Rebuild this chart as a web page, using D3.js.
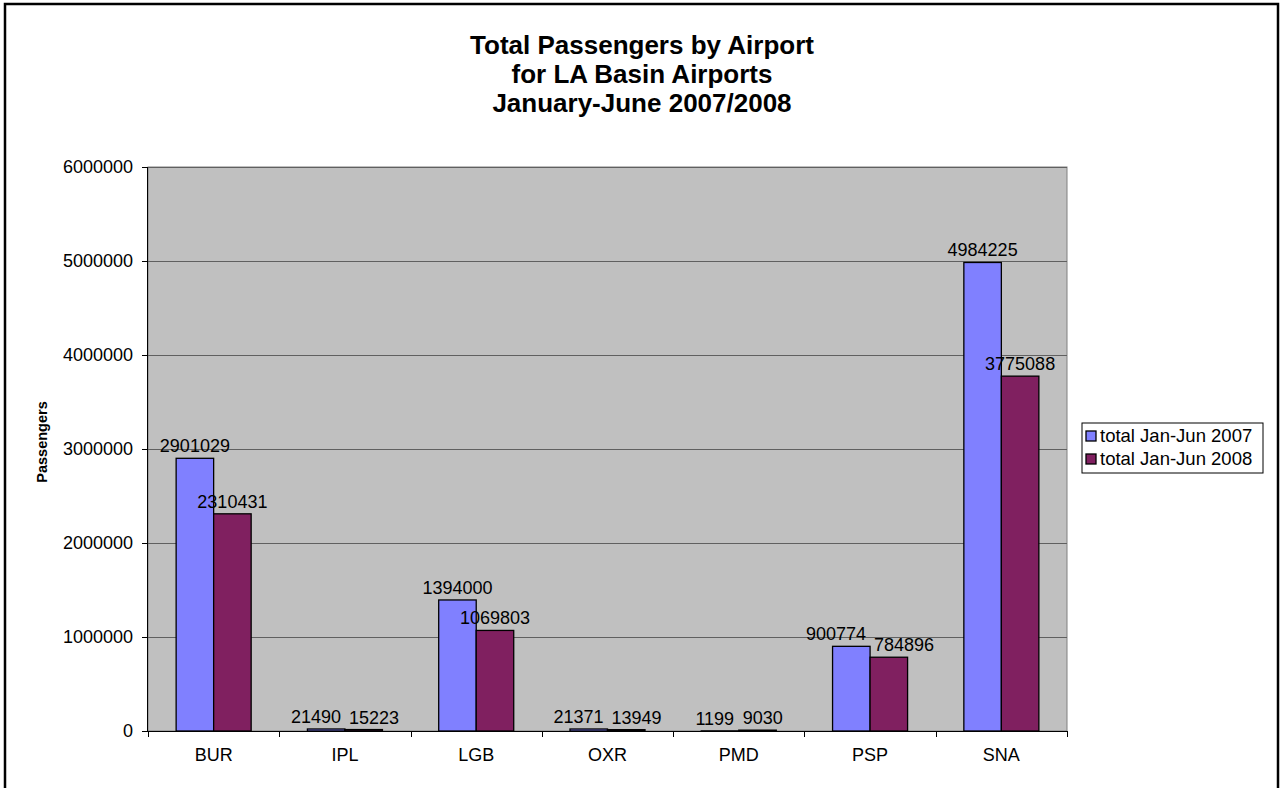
<!DOCTYPE html>
<html>
<head>
<meta charset="utf-8">
<script src="https://cdn.jsdelivr.net/npm/d3@7"></script>
<style>
  body { margin: 0; background: #fff; }
  svg { display: block; font-family: Arial, "Liberation Sans", sans-serif; }
</style>
</head>
<body>
<svg id="chart"></svg>
<script>
const airports = ["BUR", "IPL", "LGB", "OXR", "PMD", "PSP", "SNA"];
const seriesNames = ["total Jan-Jun 2007", "total Jan-Jun 2008"];
const values2007 = [2901029, 21490, 1394000, 21371, 1199, 900774, 4984225];
const values2008 = [2310431, 15223, 1069803, 13949, 9030, 784896, 3775088];
const yTicks = [0, 1000000, 2000000, 3000000, 4000000, 5000000, 6000000];
const colors = ["#8080ff", "#802060"];

const width = 1282, height = 788;
const plot = { left: 148, right: 1067, top: 167, bottom: 731 };
const fontFam = "Arial, 'Liberation Sans', sans-serif";

const svg = d3.select("#chart").attr("width", width).attr("height", height);

// outer border
svg.append("rect")
    .attr("x", 5).attr("y", 4)
    .attr("width", 1273).attr("height", 800)
    .attr("fill", "none").attr("stroke", "#000").attr("stroke-width", 2.5);

// title
const titleLines = ["Total Passengers by Airport", "for LA Basin Airports", "January-June 2007/2008"];
svg.append("g").selectAll("text")
    .data(titleLines)
    .enter()
    .append("text")
    .attr("x", 642)
    .attr("y", (d, i) => 54 + i * 29)
    .attr("text-anchor", "middle")
    .attr("font-size", "26px")
    .attr("font-weight", "bold")
    .text(d => d);

let xScale = d3.scaleBand().domain(airports).range([plot.left, plot.right]);
let yScale = d3.scaleLinear().domain([0, 6000000]).range([plot.bottom, plot.top]);

// plot background
svg.append("rect")
    .attr("x", plot.left).attr("y", plot.top)
    .attr("width", plot.right - plot.left).attr("height", plot.bottom - plot.top)
    .attr("fill", "#c0c0c0").attr("stroke", "#808080").attr("stroke-width", 1);

// gridlines
svg.append("g").selectAll("line")
    .data(yTicks.slice(1))
    .enter()
    .append("line")
    .attr("x1", plot.left).attr("x2", plot.right)
    .attr("y1", d => Math.round(yScale(d)) + 0.5)
    .attr("y2", d => Math.round(yScale(d)) + 0.5)
    .attr("stroke", "#606060").attr("stroke-width", 1);

// bars (gap width 150%)
const groupW = xScale.bandwidth() / 3.5 * 2;
const barW = groupW / 2;
const gap = (xScale.bandwidth() - groupW) / 2;
const seriesData = [values2007, values2008];
const barX = (i, s) => xScale(airports[i]) + gap + s * barW;

seriesData.forEach((vals, s) => {
    svg.append("g").selectAll("rect")
        .data(vals)
        .enter()
        .append("rect")
        .attr("x", (d, i) => barX(i, s))
        .attr("y", d => yScale(d))
        .attr("width", barW)
        .attr("height", d => yScale(0) - yScale(d))
        .attr("fill", colors[s])
        .attr("stroke", "#000")
        .attr("stroke-width", 1.3);
});

// data labels, pushed apart when a pair would overlap
const labelSize = 18;
const charW = labelSize * 0.556;
airports.forEach((a, i) => {
    const items = seriesData.map((vals, s) => ({
        v: vals[i],
        cx: barX(i, s) + barW / 2,
        y: yScale(vals[i]) - 6,
        w: String(vals[i]).length * charW
    }));
    const [l, r] = items;
    const overlapY = Math.abs(l.y - r.y) < labelSize;
    const need = (l.w + r.w) / 2 + 8;
    if (overlapY && r.cx - l.cx < need) {
        const mid = (l.cx + r.cx) / 2;
        l.cx = mid - need / 2;
        r.cx = mid + need / 2;
    }
    svg.append("g").selectAll("text")
        .data(items)
        .enter()
        .append("text")
        .attr("x", d => d.cx)
        .attr("y", d => d.y)
        .attr("text-anchor", "middle")
        .attr("font-size", labelSize + "px")
        .attr("fill", "#000")
        .text(d => d.v);
});

// axes
let yAxis = d3.axisLeft(yScale).tickValues(yTicks).tickSize(6).tickPadding(9).tickFormat(d3.format("d"));
let xAxis = d3.axisBottom(xScale).tickSize(0).tickPadding(17);

const gy = svg.append("g").attr("transform", `translate(${plot.left}, 0)`).call(yAxis);
gy.select(".domain").attr("stroke", "#000").attr("d", `M-0.5,${plot.top}V${plot.bottom}`);
gy.selectAll(".tick line").attr("stroke", "#000");
gy.selectAll("text").attr("font-size", "18px").attr("fill", "#000").attr("font-family", fontFam);

const gx = svg.append("g").attr("transform", `translate(0, ${plot.bottom})`).call(xAxis);
gx.select(".domain").attr("stroke", "#000").attr("d", `M${plot.left},0.5H${plot.right}`);
gx.selectAll("text").attr("font-size", "18px").attr("fill", "#000").attr("font-family", fontFam);

// category separator ticks on x axis
svg.append("g").selectAll("line")
    .data(d3.range(airports.length + 1))
    .enter()
    .append("line")
    .attr("x1", i => Math.round(plot.left + i * xScale.bandwidth()) + 0.5)
    .attr("x2", i => Math.round(plot.left + i * xScale.bandwidth()) + 0.5)
    .attr("y1", plot.bottom).attr("y2", plot.bottom + 6)
    .attr("stroke", "#000");

// y axis label
svg.append("text")
    .attr("transform", "rotate(-90)")
    .attr("x", -442)
    .attr("y", 47)
    .attr("text-anchor", "middle")
    .attr("font-size", "14.5px")
    .attr("font-weight", "bold")
    .text("Passengers");

// legend
const legend = svg.append("g").attr("transform", "translate(1082, 423)");
legend.append("rect")
    .attr("width", 181).attr("height", 50)
    .attr("fill", "#fff").attr("stroke", "#000").attr("stroke-width", 1);
seriesNames.forEach((name, i) => {
    legend.append("rect")
        .attr("x", 4).attr("y", 8 + i * 23)
        .attr("width", 10).attr("height", 10)
        .attr("fill", colors[i]).attr("stroke", "#000").attr("stroke-width", 1.3);
    legend.append("text")
        .attr("x", 18).attr("y", 19 + i * 23)
        .attr("font-size", "18.5px")
        .text(name);
});
</script>
</body>
</html>
